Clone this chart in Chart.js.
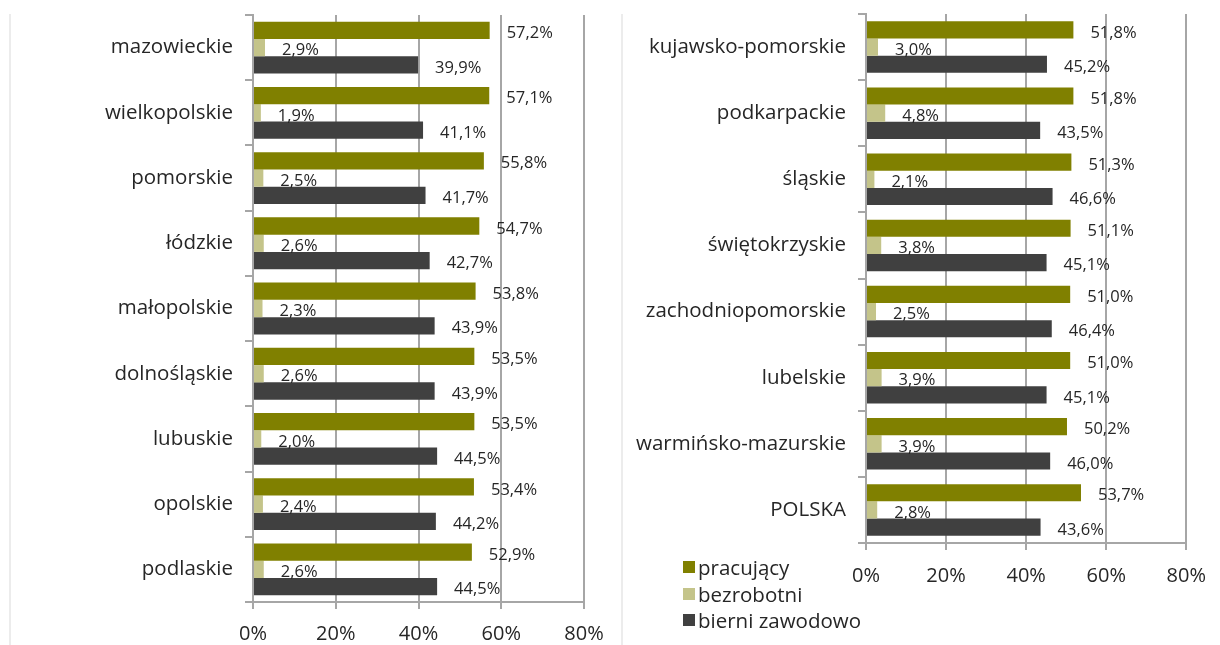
<!DOCTYPE html>
<html>
<head>
<meta charset="utf-8">
<script src="https://cdn.jsdelivr.net/npm/chart.js@4.4.1/dist/chart.umd.min.js"></script>
<style>
  body { margin: 0; background: #fff; font-family: "Open Sans", sans-serif; }
  #wrap { position: relative; width: 1220px; height: 645px; }
  .box { position: absolute; top: 0; height: 645px; }
  #leftBox { left: 0; width: 620px; }
  #rightBox { left: 620px; width: 600px; }
  .edge { position: absolute; top: 14px; width: 2px; height: 631px; background: #ececec; }
  #legend { position: absolute; left: 683px; top: 554px; font-size: 20.5px; color: #262626; }
  #legend div { height: 26.5px; line-height: 26px; display: flex; align-items: center; }
  #legend span { display: inline-block; width: 12px; height: 12px; margin-right: 3px; }
</style>
</head>
<body>
<div id="wrap">
  <div class="edge" style="left:9px"></div>
  <div class="edge" style="left:621px"></div>
  <div class="box" id="leftBox"><canvas id="leftChart" width="620" height="645"></canvas></div>
  <div class="box" id="rightBox"><canvas id="rightChart" width="600" height="645"></canvas></div>
  <div id="legend"></div>
</div>
<script>
const seriesNames = ["pracujący", "bezrobotni", "bierni zawodowo"];
const seriesColors = ["#808000", "#c4c48a", "#404040"];
const xTicks = [0, 20, 40, 60, 80];

const leftRegions = ["mazowieckie", "wielkopolskie", "pomorskie", "łódzkie", "małopolskie",
  "dolnośląskie", "lubuskie", "opolskie", "podlaskie"];
const leftWorking = [57.2, 57.1, 55.8, 54.7, 53.8, 53.5, 53.5, 53.4, 52.9];
const leftUnemployed = [2.9, 1.9, 2.5, 2.6, 2.3, 2.6, 2.0, 2.4, 2.6];
const leftInactive = [39.9, 41.1, 41.7, 42.7, 43.9, 43.9, 44.5, 44.2, 44.5];

const rightRegions = ["kujawsko-pomorskie", "podkarpackie", "śląskie", "świętokrzyskie",
  "zachodniopomorskie", "lubelskie", "warmińsko-mazurskie", "POLSKA"];
const rightWorking = [51.8, 51.8, 51.3, 51.1, 51.0, 51.0, 50.2, 53.7];
const rightUnemployed = [3.0, 4.8, 2.1, 3.8, 2.5, 3.9, 3.9, 2.8];
const rightInactive = [45.2, 43.5, 46.6, 45.1, 46.4, 45.1, 46.0, 43.6];

const gridColor = "#a6a6a6";
const textColor = "#262626";

// labels next to each bar, a bit past the end
const barLabels = {
  id: "barLabels",
  afterDatasetsDraw(chart) {
    const ctx = chart.ctx;
    ctx.save();
    ctx.font = "16.5px 'Open Sans'";
    ctx.fillStyle = textColor;
    ctx.textBaseline = "middle";
    ctx.textAlign = "left";
    chart.data.datasets.forEach((ds, i) => {
      chart.getDatasetMeta(i).data.forEach((bar, j) => {
        const txt = ds.data[j].toFixed(1).replace(".", ",") + "%";
        ctx.fillText(txt, bar.x + 17, bar.y + 3);
      });
    });
    ctx.restore();
  }
};

function makeChart(id, labels, working, unemployed, inactive, opts) {
  const data = [working, unemployed, inactive];
  return new Chart(document.getElementById(id), {
    type: "bar",
    data: {
      labels: labels,
      datasets: data.map((d, i) => ({
        label: seriesNames[i],
        data: d,
        backgroundColor: seriesColors[i],
        categoryPercentage: opts.catPct,
        barPercentage: 1.0
      }))
    },
    options: {
      indexAxis: "y",
      responsive: false,
      animation: false,
      layout: { padding: { top: opts.top, right: opts.right, bottom: opts.bottom, left: 0 } },
      plugins: { legend: { display: false }, tooltip: { enabled: false } },
      scales: {
        x: {
          min: 0, max: 80,
          afterBuildTicks: (s) => { s.ticks = xTicks.map(v => ({ value: v })); },
          afterFit: (s) => { s.height = opts.xHeight; },
          grid: { color: gridColor, lineWidth: 2, tickLength: 7 },
          border: { color: gridColor, width: 2 },
          ticks: {
            color: textColor, padding: opts.xPad,
            font: { family: "Open Sans", size: 20 },
            callback: (v) => v + "%"
          }
        },
        y: {
          afterFit: (s) => { s.width = opts.yWidth; s.paddingTop = 0; s.paddingBottom = 0; },
          grid: { drawOnChartArea: false, color: gridColor, lineWidth: 2, tickLength: 8 },
          border: { color: gridColor, width: 2 },
          ticks: { color: textColor, padding: 12, font: { family: "Open Sans", size: 20.5 } }
        }
      }
    },
    plugins: [barLabels]
  });
}

makeChart("leftChart", leftRegions, leftWorking, leftUnemployed, leftInactive,
  { catPct: 0.795, top: 15, right: 36, bottom: 0, xHeight: 43, xPad: 13, yWidth: 253 });
makeChart("rightChart", rightRegions, rightWorking, rightUnemployed, rightInactive,
  { catPct: 0.78, top: 14, right: 23, bottom: 50, xHeight: 52, xPad: 14, yWidth: 246 });

// legend
const legend = document.getElementById("legend");
seriesNames.forEach((name, i) => {
  const row = document.createElement("div");
  row.innerHTML = `<span style="background:${seriesColors[i]}"></span>${name}`;
  legend.appendChild(row);
});
</script>
</body>
</html>
